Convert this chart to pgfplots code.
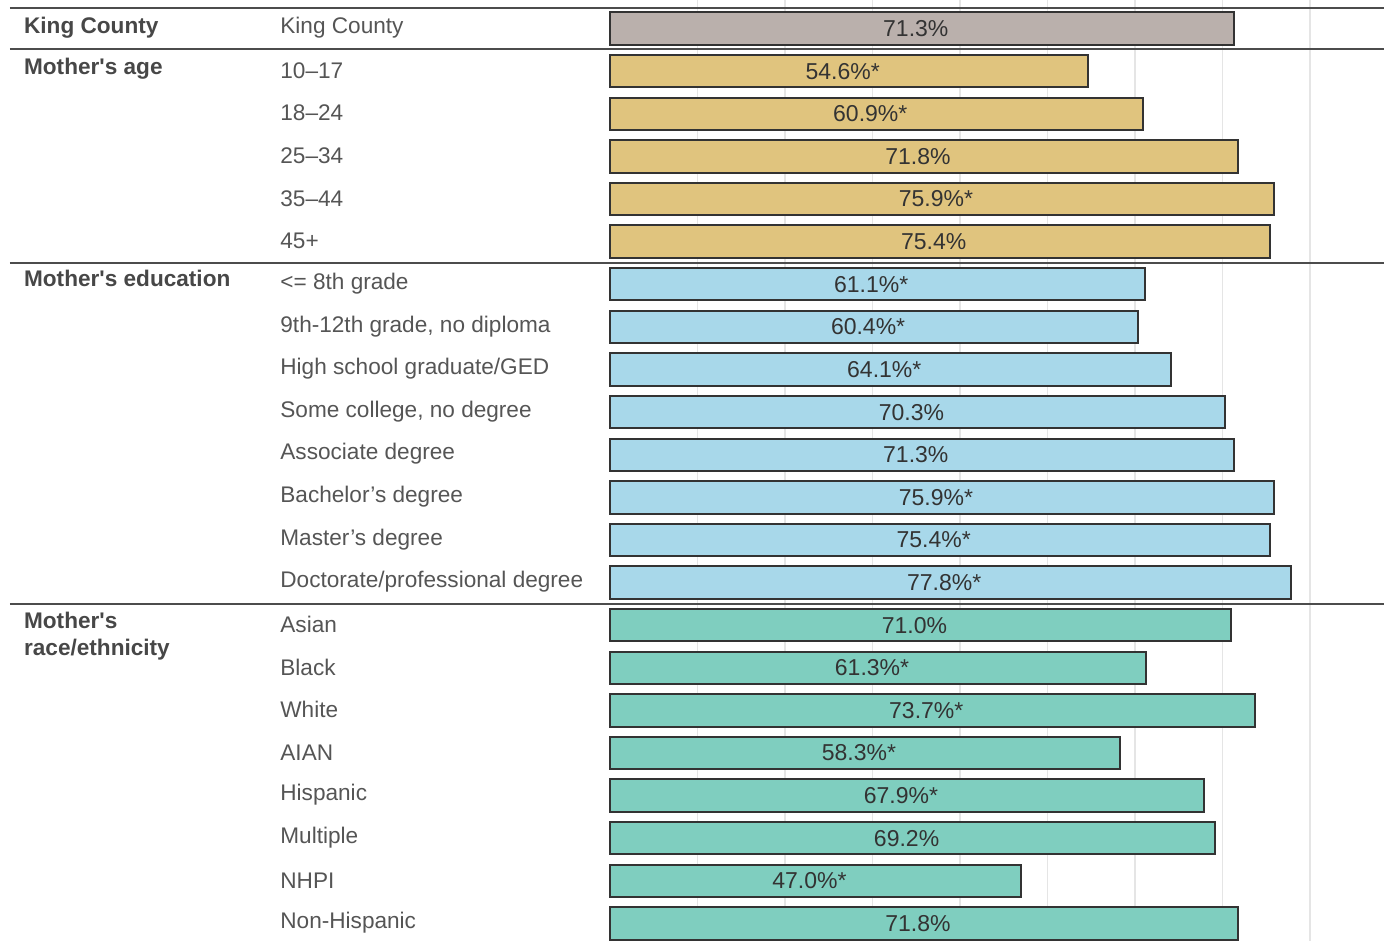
\documentclass[border=0pt]{standalone}
\usepackage{pgfplots}
\usepackage{pgfplotstable}
\pgfplotsset{compat=1.18}
\usepackage{fontspec}
\setmainfont{Liberation Sans}[Ligatures=TeXOff]
\definecolor{cgray}{HTML}{BAB0AC}
\definecolor{cgold}{HTML}{E0C47E}
\definecolor{cblue}{HTML}{A8D8EA}
\definecolor{cteal}{HTML}{7FCEBF}
\definecolor{txt}{HTML}{555555}
\definecolor{grp}{HTML}{474747}
\definecolor{vtx}{HTML}{333333}

\pgfplotstableread{
y v lab
0 71.3 71.3\%
}\kc
\pgfplotstableread{
y v lab
1 54.6 54.6\%*
2 60.9 60.9\%*
3 71.8 71.8\%
4 75.9 75.9\%*
5 75.4 75.4\%
}\age
\pgfplotstableread{
y v lab
6 61.1 61.1\%*
7 60.4 60.4\%*
8 64.1 64.1\%*
9 70.3 70.3\%
10 71.3 71.3\%
11 75.9 75.9\%*
12 75.4 75.4\%*
13 77.8 77.8\%*
}\edu
\pgfplotstableread{
y v lab
14 71.0 71.0\%
15 61.3 61.3\%*
16 73.7 73.7\%*
17 58.3 58.3\%*
18 67.9 67.9\%*
19 69.2 69.2\%
20 47.0 47.0\%*
21 71.8 71.8\%
}\race

\newcommand{\lfont}{\fontsize{11.3}{13.5}\selectfont}
\tikzset{cat/.style={anchor=west, inner sep=0pt, font=\lfont, text=txt},
  grl/.style={anchor=west, inner sep=0pt, font=\lfont\bfseries, text=grp}}
\pgfplotsset{lab/.style={only marks, mark=none, point meta=explicit symbolic,
    nodes near coords,
    nodes near coords style={anchor=center, text=vtx, font=\fontsize{11.5}{13}\selectfont}}}

\begin{document}
\begin{tikzpicture}
\begin{axis}[
  width=692pt, height=470.5pt, scale only axis,
  xmin=-69.71, xmax=88.46,
  ymin=-0.669, ymax=21.41,
  y dir=reverse,
  axis line style={draw=none},
  xtick={10,20,...,80}, xticklabels={},
  ytick=\empty,
  major tick length=0pt,
  xmajorgrids,
  grid style={black!10, line width=0.8pt},
  clip=false,
  bar width=0.76,
]
\addplot[xbar, bar shift=0pt, fill=cgray, draw=black!80, line width=1pt] table[x=v, y=y] {\kc};
\addplot[xbar, bar shift=0pt, fill=cgold, draw=black!80, line width=1pt] table[x=v, y=y] {\age};
\addplot[xbar, bar shift=0pt, fill=cblue, draw=black!80, line width=1pt] table[x=v, y=y] {\edu};
\addplot[xbar, bar shift=0pt, fill=cteal, draw=black!80, line width=1pt] table[x=v, y=y] {\race};

\addplot[lab] table[x expr=\thisrow{v}/2-0.7, y=y, meta=lab] {\kc};
\addplot[lab] table[x expr=\thisrow{v}/2-0.7, y=y, meta=lab] {\age};
\addplot[lab] table[x expr=\thisrow{v}/2-0.7, y=y, meta=lab] {\edu};
\addplot[lab] table[x expr=\thisrow{v}/2-0.7, y=y, meta=lab] {\race};

% separators
\draw[line width=1pt, black!70] (axis cs:-68.57,-0.481) -- (axis cs:88.46,-0.481);
\draw[line width=1pt, black!70] (axis cs:-68.57,0.481) -- (axis cs:88.46,0.481);
\draw[line width=1pt, black!70] (axis cs:-68.57,5.5) -- (axis cs:88.46,5.5);
\draw[line width=1pt, black!70] (axis cs:-68.57,13.5) -- (axis cs:88.46,13.5);

% group labels
\node[grl] at (axis cs:-67.0,-0.03) {King County};
\node[grl] at (axis cs:-67.0,0.94) {Mother's age};
\node[grl] at (axis cs:-67.0,5.87) {Mother's education};
\node[anchor=north west, align=left, font=\lfont\bfseries, text=grp, inner sep=0pt] at (axis cs:-67.0,13.69) {Mother's\\race/ethnicity};

% category labels
\node[cat] at (axis cs:-37.71,-0.015) {King County};
\node[cat] at (axis cs:-37.71,0.985) {10–17};
\node[cat] at (axis cs:-37.71,1.985) {18–24};
\node[cat] at (axis cs:-37.71,2.985) {25–34};
\node[cat] at (axis cs:-37.71,3.985) {35–44};
\node[cat] at (axis cs:-37.71,4.985) {45+};
\node[cat] at (axis cs:-37.71,5.985) {<= 8th grade};
\node[cat] at (axis cs:-37.71,6.985) {9th-12th grade, no diploma};
\node[cat] at (axis cs:-37.71,7.985) {High school graduate/GED};
\node[cat] at (axis cs:-37.71,8.985) {Some college, no degree};
\node[cat] at (axis cs:-37.71,9.985) {Associate degree};
\node[cat] at (axis cs:-37.71,10.985) {Bachelor’s degree};
\node[cat] at (axis cs:-37.71,11.985) {Master’s degree};
\node[cat] at (axis cs:-37.71,12.985) {Doctorate/professional degree};
\node[cat] at (axis cs:-37.71,13.985) {Asian};
\node[cat] at (axis cs:-37.71,14.985) {Black};
\node[cat] at (axis cs:-37.71,15.985) {White};
\node[cat] at (axis cs:-37.71,16.985) {AIAN};
\node[cat] at (axis cs:-37.71,17.985) {Hispanic};
\node[cat] at (axis cs:-37.71,18.985) {Multiple};
\node[cat] at (axis cs:-37.71,19.985) {NHPI};
\node[cat] at (axis cs:-37.71,20.985) {Non-Hispanic};
\end{axis}
\pgfresetboundingbox
\path[use as bounding box] (current axis.south west) rectangle (current axis.north east);
\end{tikzpicture}
\end{document}
